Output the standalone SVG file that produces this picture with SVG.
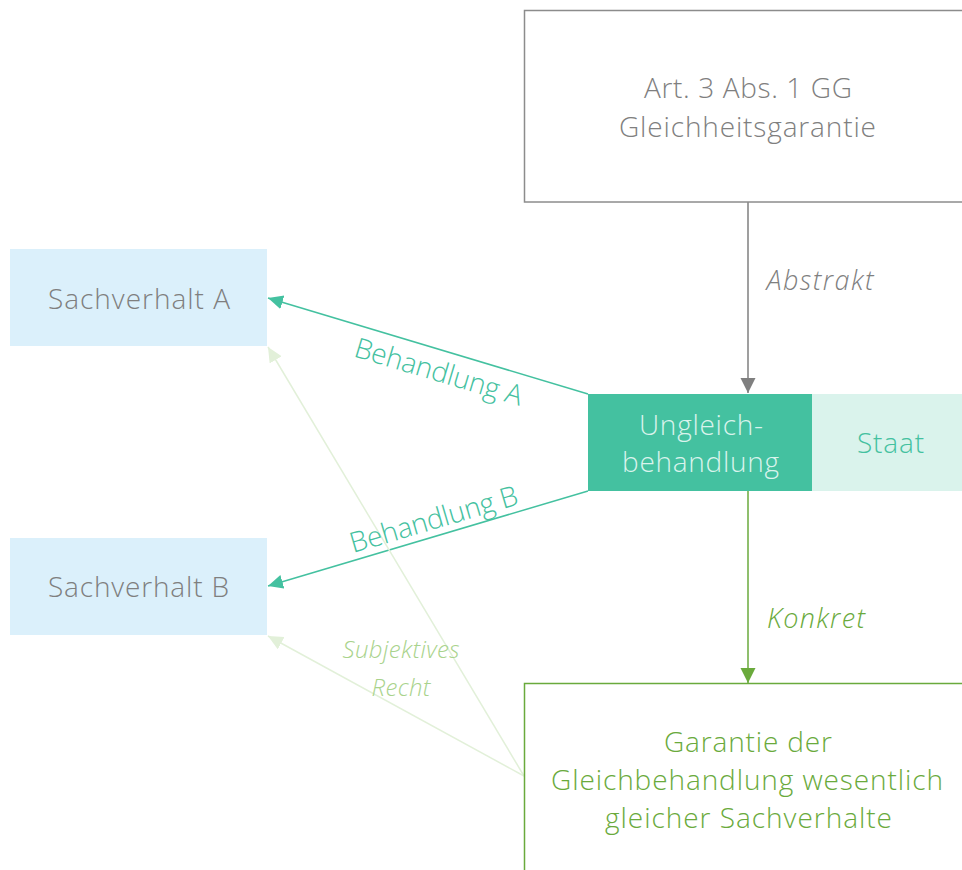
<svg xmlns="http://www.w3.org/2000/svg" width="962" height="870" viewBox="0 0 962 870">
<defs>
<style>
text{font-family:"Open Sans","Noto Sans","Liberation Sans",sans-serif;font-weight:300;text-anchor:middle}
.main{font-size:28px}
.gray{fill:#7f7f7f}
.ital{font-style:italic;font-size:27px}
.small{font-style:italic;font-size:24px}
.teal{fill:#44c1a0}
.green{fill:#6aaa3c}
.lgreen{fill:#a9d38c}
.conn{fill:none;stroke-width:1.5}
</style>
<marker id="mGray" markerUnits="userSpaceOnUse" markerWidth="16" markerHeight="16" viewBox="0 0 16 16" refX="15" refY="7.5" orient="auto"><path d="M0,0 L15,7.5 L0,15 z" fill="#7f7f7f"/></marker>
<marker id="mTeal" markerUnits="userSpaceOnUse" markerWidth="16" markerHeight="16" viewBox="0 0 16 16" refX="15" refY="7" orient="auto"><path d="M0,0 L15,7 L0,14 z" fill="#44c1a0"/></marker>
<marker id="mGreen" markerUnits="userSpaceOnUse" markerWidth="16" markerHeight="16" viewBox="0 0 16 16" refX="15" refY="7.5" orient="auto"><path d="M0,0 L15,7.5 L0,15 z" fill="#6aaa3c"/></marker>
<marker id="mLight" markerUnits="userSpaceOnUse" markerWidth="16" markerHeight="16" viewBox="0 0 16 16" refX="15" refY="7" orient="auto"><path d="M0,0 L15,7 L0,14 z" fill="#e2f0d9"/></marker>
</defs>
<rect width="962" height="870" fill="#ffffff"/>

<g id="connectors">
<line class="conn" x1="748" y1="202" x2="748" y2="393" stroke="#7f7f7f" marker-end="url(#mGray)"/>
<line class="conn" x1="748" y1="491" x2="748" y2="683" stroke="#6aaa3c" marker-end="url(#mGreen)"/>
<line class="conn" x1="588" y1="394" x2="268" y2="298" stroke="#44c1a0" marker-end="url(#mTeal)"/>
<line class="conn" x1="588" y1="491" x2="268" y2="586" stroke="#44c1a0" marker-end="url(#mTeal)"/>
<line class="conn" x1="524" y1="776" x2="268" y2="347" stroke="#e2f0d9" marker-end="url(#mLight)"/>
<line class="conn" x1="524" y1="776" x2="268" y2="636" stroke="#e2f0d9" marker-end="url(#mLight)"/>
<text class="ital gray" x="820" y="290" textLength="107">Abstrakt</text>
<text class="ital green" x="816" y="628" textLength="98">Konkret</text>
<text class="main teal" transform="translate(436,381) rotate(16.6)" x="0" y="0" textLength="174">Behandlung A</text>
<text class="main teal" transform="translate(436.5,528.5) rotate(-16.4)" x="0" y="0" textLength="174">Behandlung B</text>
<text class="small lgreen" x="401" y="658" textLength="117">Subjektives</text>
<text class="small lgreen" x="401" y="696" textLength="59">Recht</text>
</g>

<g id="node-gg">
<rect x="524.5" y="10.5" width="450" height="191.5" fill="#ffffff" stroke="#8c8c8c" stroke-width="1.5"/>
<text class="main gray" x="748" y="98" textLength="208">Art. 3 Abs. 1 GG</text>
<text class="main gray" x="747.5" y="137" textLength="257">Gleichheitsgarantie</text>
</g>

<g id="node-sachverhalt-a">
<rect x="10" y="249" width="257" height="97" fill="#dbf0fb"/>
<text class="main gray" x="139" y="309" textLength="182">Sachverhalt A</text>
</g>

<g id="node-sachverhalt-b">
<rect x="10" y="538" width="257" height="97" fill="#dbf0fb"/>
<text class="main gray" x="138.5" y="597" textLength="181">Sachverhalt B</text>
</g>

<g id="node-ungleichbehandlung">
<rect x="588" y="394" width="224" height="97" fill="#44c1a0"/>
<text class="main" fill="#d9f3ec" x="701" y="435" textLength="124">Ungleich-</text>
<text class="main" fill="#d9f3ec" x="700.5" y="472" textLength="157">behandlung</text>
</g>

<g id="node-staat">
<rect x="812" y="394" width="150" height="97" fill="#daf3ec"/>
<text class="main teal" x="890.5" y="453" textLength="67">Staat</text>
</g>

<g id="node-garantie">
<rect x="524.5" y="683.5" width="500" height="250" fill="none" stroke="#6aaa3c" stroke-width="1.5"/>
<text class="main green" x="748" y="752" textLength="168">Garantie der</text>
<text class="main green" x="747" y="790" textLength="392">Gleichbehandlung wesentlich</text>
<text class="main green" x="748.5" y="828" textLength="287">gleicher Sachverhalte</text>
</g>
</svg>
